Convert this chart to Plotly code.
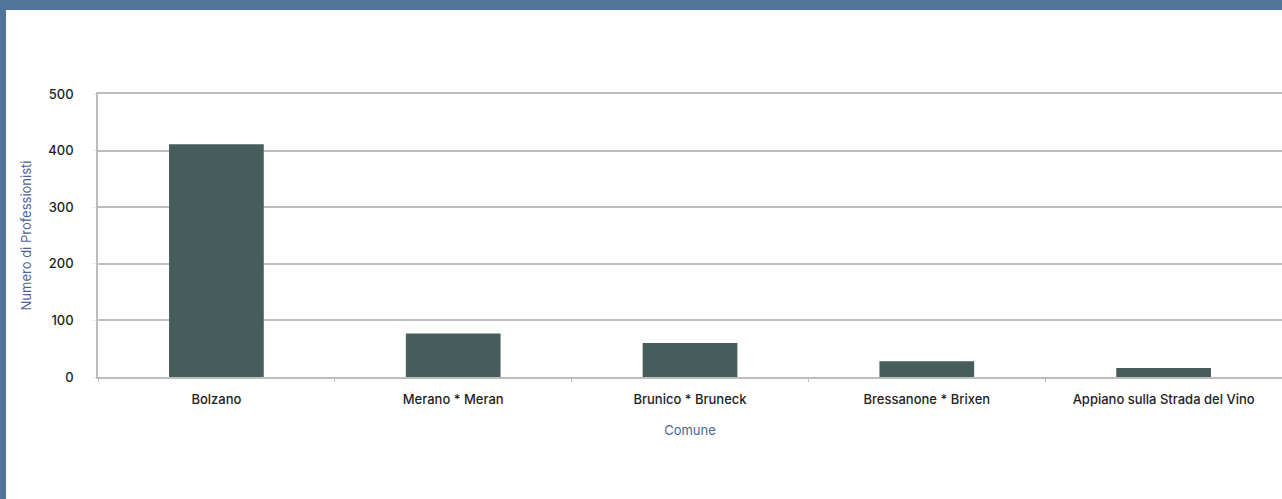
import plotly.graph_objects as go

# Professionals per municipality
comuni = [
    "Bolzano",
    "Merano * Meran",
    "Brunico * Bruneck",
    "Bressanone * Brixen",
    "Appiano sulla Strada del Vino",
]
professionisti = [411, 77, 60, 28, 16]
y_ticks = [0, 100, 200, 300, 400, 500]

W, H = 1282, 499
ML, MR, MT, MB = 98, 0, 94, 122
plot_w = W - ML - MR
plot_h = H - MT - MB

FONT = "Inter, Lato, sans-serif"
BAR = "#465d5b"
GRID = "#bdbdbd"
FRAME = "#52739a"
TEXT = "#1e1e1e"
TITLE = "#4d6491"

fig = go.Figure(
    go.Bar(
        x=comuni,
        y=professionisti,
        marker=dict(color=BAR, line=dict(width=0)),
        hoverinfo="x+y",
    )
)

# page frame: band along the top and left edges
def px_x(px):
    return (px - ML) / plot_w

def px_y(px):
    return 1 - (px - MT) / plot_h

fig.add_shape(type="rect", xref="paper", yref="paper",
              x0=px_x(0), x1=px_x(W), y0=px_y(0), y1=px_y(10),
              fillcolor=FRAME, line=dict(width=0), layer="above")
fig.add_shape(type="rect", xref="paper", yref="paper",
              x0=px_x(0), x1=px_x(6), y0=px_y(0), y1=px_y(H),
              fillcolor=FRAME, line=dict(width=0), layer="above")

fig.update_layout(
    width=W,
    height=H,
    margin=dict(l=ML, r=MR, t=MT, b=MB),
    paper_bgcolor="white",
    plot_bgcolor="white",
    bargap=0.6,
    showlegend=False,
    font=dict(family=FONT, size=13, color=TEXT),
)

fig.update_xaxes(
    showline=True,
    mirror=True,
    linecolor=GRID,
    linewidth=1.5,
    ticks="outside",
    tickson="boundaries",
    ticklen=3,
    tickcolor=GRID,
    ticklabelstandoff=10,
    tickfont=dict(size=13, color=TEXT, weight=500),
    title=dict(text="Comune", font=dict(size=13, color=TITLE), standoff=20),
    showgrid=False,
)

fig.update_yaxes(
    range=[0, 500],
    tickvals=y_ticks,
    showline=True,
    linecolor=GRID,
    linewidth=1.5,
    showgrid=True,
    gridcolor=GRID,
    gridwidth=1.5,
    zeroline=False,
    ticks="outside",
    ticklen=3,
    tickcolor="#e6e6e6",
    ticklabelstandoff=17,
    tickfont=dict(size=13, color=TEXT, weight=500),
    title=dict(text="Numero di Professionisti", font=dict(size=13, color=TITLE), standoff=14),
)

fig.write_html("out.html")
